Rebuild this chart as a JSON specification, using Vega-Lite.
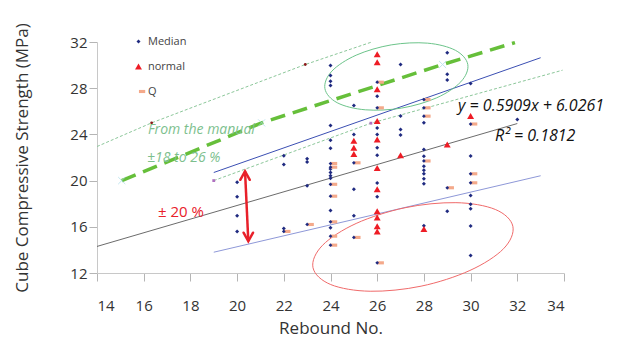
{
  "$schema": "https://vega.github.io/schema/vega-lite/v6.json",
  "width": 467,
  "height": 231,
  "autosize": {"type": "none"},
  "padding": {"left": 97, "top": 42, "right": 60, "bottom": 70},
  "background": "white",
  "config": {
    "view": {"stroke": null},
    "font": "Open Sans",
    "axis": {
      "grid": false,
      "domainColor": "#c8c8c8",
      "tickColor": "#b5b5b5",
      "tickSize": 8,
      "labelFont": "Open Sans",
      "labelFontSize": 15,
      "labelColor": "#333333",
      "titleFont": "Open Sans",
      "titleFontSize": 17,
      "titleFontWeight": "normal",
      "titleColor": "#333333"
    }
  },
  "datasets": {
    "points": [
      {"series": "Median", "x": 20, "y": 19.86}, {"series": "Median", "x": 20, "y": 18.6}, {"series": "Median", "x": 20, "y": 16.95}, {"series": "Median", "x": 20, "y": 15.6},
      {"series": "Median", "x": 22, "y": 22.15}, {"series": "Median", "x": 22, "y": 21.4}, {"series": "Median", "x": 22, "y": 15.85},
      {"series": "Median", "x": 23, "y": 21.9}, {"series": "Median", "x": 23, "y": 21.6}, {"series": "Median", "x": 23, "y": 19.55},
      {"series": "Median", "x": 24, "y": 29.97}, {"series": "Median", "x": 24, "y": 29.1}, {"series": "Median", "x": 24, "y": 28.6}, {"series": "Median", "x": 24, "y": 28.23},
      {"series": "Median", "x": 24, "y": 24.77}, {"series": "Median", "x": 24, "y": 23.5}, {"series": "Median", "x": 24, "y": 22.8}, {"series": "Median", "x": 24, "y": 21.0},
      {"series": "Median", "x": 24, "y": 20.7}, {"series": "Median", "x": 24, "y": 20.42}, {"series": "Median", "x": 24, "y": 20.2}, {"series": "Median", "x": 24, "y": 17.41},
      {"series": "Median", "x": 24, "y": 15.91},
      {"series": "Median", "x": 25, "y": 26.5}, {"series": "Median", "x": 25, "y": 24.0}, {"series": "Median", "x": 25, "y": 19.25}, {"series": "Median", "x": 25, "y": 16.95},
      {"series": "Median", "x": 26, "y": 27.3}, {"series": "Median", "x": 26, "y": 24.55}, {"series": "Median", "x": 26, "y": 24.0}, {"series": "Median", "x": 26, "y": 22.85},
      {"series": "Median", "x": 26, "y": 22.2}, {"series": "Median", "x": 26, "y": 19.8}, {"series": "Median", "x": 26, "y": 18.6},
      {"series": "Median", "x": 27, "y": 30.05}, {"series": "Median", "x": 27, "y": 25.6}, {"series": "Median", "x": 27, "y": 24.42}, {"series": "Median", "x": 27, "y": 23.95},
      {"series": "Median", "x": 28, "y": 25.0}, {"series": "Median", "x": 28, "y": 22.7}, {"series": "Median", "x": 28, "y": 22.1}, {"series": "Median", "x": 28, "y": 21.25},
      {"series": "Median", "x": 28, "y": 20.9}, {"series": "Median", "x": 28, "y": 20.6}, {"series": "Median", "x": 28, "y": 20.15}, {"series": "Median", "x": 28, "y": 19.72},
      {"series": "Median", "x": 28, "y": 16.1},
      {"series": "Median", "x": 29, "y": 31.06}, {"series": "Median", "x": 29, "y": 29.2}, {"series": "Median", "x": 29, "y": 28.7}, {"series": "Median", "x": 29, "y": 17.35},
      {"series": "Median", "x": 30, "y": 28.4}, {"series": "Median", "x": 30, "y": 22.12}, {"series": "Median", "x": 30, "y": 18.7}, {"series": "Median", "x": 30, "y": 17.95},
      {"series": "Median", "x": 30, "y": 17.56}, {"series": "Median", "x": 30, "y": 16.08}, {"series": "Median", "x": 30, "y": 13.52},
      {"series": "Median", "x": 32, "y": 25.29},
      {"series": "Q", "x": 22, "y": 15.6}, {"series": "Q", "x": 23, "y": 16.2},
      {"series": "Q", "x": 24, "y": 21.48}, {"series": "Q", "x": 24, "y": 21.16}, {"series": "Q", "x": 24, "y": 19.68}, {"series": "Q", "x": 24, "y": 18.65},
      {"series": "Q", "x": 24, "y": 16.43}, {"series": "Q", "x": 24, "y": 15.19}, {"series": "Q", "x": 24, "y": 14.41},
      {"series": "Q", "x": 25, "y": 21.54}, {"series": "Q", "x": 25, "y": 15.08},
      {"series": "Q", "x": 26, "y": 28.52}, {"series": "Q", "x": 26, "y": 26.3}, {"series": "Q", "x": 26, "y": 12.88},
      {"series": "Q", "x": 28, "y": 27.02}, {"series": "Q", "x": 28, "y": 26.3}, {"series": "Q", "x": 28, "y": 25.58}, {"series": "Q", "x": 28, "y": 21.7},
      {"series": "Q", "x": 29, "y": 19.38},
      {"series": "Q", "x": 30, "y": 24.9}, {"series": "Q", "x": 30, "y": 20.59}, {"series": "Q", "x": 30, "y": 19.81},
      {"series": "normal", "x": 25, "y": 23.45}, {"series": "normal", "x": 25, "y": 22.85}, {"series": "normal", "x": 25, "y": 22.3},
      {"series": "normal", "x": 26, "y": 30.95}, {"series": "normal", "x": 26, "y": 30.25}, {"series": "normal", "x": 26, "y": 27.9}, {"series": "normal", "x": 26, "y": 25.15},
      {"series": "normal", "x": 26, "y": 23.55}, {"series": "normal", "x": 26, "y": 21.1}, {"series": "normal", "x": 26, "y": 19.25}, {"series": "normal", "x": 26, "y": 17.35},
      {"series": "normal", "x": 26, "y": 16.8}, {"series": "normal", "x": 26, "y": 16.05}, {"series": "normal", "x": 26, "y": 15.6},
      {"series": "normal", "x": 27, "y": 22.2}, {"series": "normal", "x": 28, "y": 15.8}, {"series": "normal", "x": 29, "y": 23.12}, {"series": "normal", "x": 30, "y": 25.6}
    ]
  },
  "encoding": {
    "x": {
      "field": "x", "type": "quantitative",
      "scale": {"domain": [14, 34], "nice": false, "zero": false},
      "axis": {"values": [14, 16, 18, 20, 22, 24, 26, 28, 30, 32, 34], "title": "Rebound No.", "labelPadding": 17, "titlePadding": 7}
    },
    "y": {
      "field": "y", "type": "quantitative",
      "scale": {"domain": [12, 32], "nice": false, "zero": false},
      "axis": {"values": [12, 16, 20, 24, 28, 32], "title": "Cube Compressive Strength (MPa)", "labelPadding": 2, "titlePadding": 38}
    }
  },
  "layer": [
    {
      "data": {"values": [{"x": 14, "y": 14.3}, {"x": 32, "y": 24.94}]},
      "mark": {"type": "line", "color": "#5a5a5a", "strokeWidth": 0.9},
      "encoding": {}
    },
    {
      "data": {"values": [{"x": 19, "y": 20.7}, {"x": 33, "y": 30.64}]},
      "mark": {"type": "line", "color": "#3b4fb3", "strokeWidth": 1},
      "encoding": {}
    },
    {
      "data": {"values": [{"x": 19, "y": 13.8}, {"x": 33, "y": 20.42}]},
      "mark": {"type": "line", "color": "#8e98d8", "strokeWidth": 1},
      "encoding": {}
    },
    {
      "data": {"values": [{"x": 14, "y": 22.95, "i": 0}, {"x": 16.34, "y": 25.0, "i": 1}, {"x": 22.92, "y": 30.05, "i": 2}, {"x": 25.77, "y": 32.0, "i": 3}]},
      "mark": {"type": "line", "color": "#8cc79a", "strokeWidth": 1, "strokeDash": [3, 2]},
      "encoding": {"order": {"field": "i"}}
    },
    {
      "data": {"values": [{"x": 19, "y": 20.0, "i": 0}, {"x": 25.73, "y": 24.97, "i": 1}, {"x": 33.94, "y": 29.56, "i": 2}]},
      "mark": {"type": "line", "color": "#8cc79a", "strokeWidth": 1, "strokeDash": [3, 2]},
      "encoding": {"order": {"field": "i"}}
    },
    {
      "data": {"values": [{"x": 15.06, "y": 20.0, "i": 0}, {"x": 21.05, "y": 25.0, "i": 1}, {"x": 28.8, "y": 30.05, "i": 2}, {"x": 31.9, "y": 31.95, "i": 3}]},
      "mark": {"type": "line", "color": "#66bf3a", "strokeWidth": 3.5, "strokeDash": [15, 8]},
      "encoding": {"order": {"field": "i"}}
    },
    {
      "data": {"values": [{"x": 15.06, "y": 20.0}, {"x": 21.05, "y": 25.0}, {"x": 28.8, "y": 30.05}]},
      "mark": {"type": "point", "shape": "M-1,-1L1,1M1,-1L-1,1", "filled": false, "size": 50, "color": "#a8dcea", "strokeWidth": 1}
    },
    {
      "data": {"values": [{"x": 16.34, "y": 25.0}, {"x": 22.92, "y": 30.05}]},
      "mark": {"type": "point", "shape": "circle", "filled": true, "size": 8, "color": "#8b1a1a", "opacity": 1}
    },
    {
      "data": {"values": [{"x": 19, "y": 20.0}, {"x": 25.73, "y": 24.97}]},
      "mark": {"type": "point", "shape": "square", "filled": true, "size": 8, "color": "#b070c0", "opacity": 1}
    },
    {
      "data": {"values": [
        {"x": 29.88, "y": 30.05, "i": 0}, {"x": 29.58, "y": 28.55, "i": 1}, {"x": 28.55, "y": 27.17, "i": 2}, {"x": 27.05, "y": 26.28, "i": 3},
        {"x": 25.49, "y": 26.13, "i": 4}, {"x": 24.29, "y": 26.74, "i": 5}, {"x": 23.76, "y": 27.97, "i": 6}, {"x": 24.06, "y": 29.48, "i": 7},
        {"x": 25.1, "y": 30.86, "i": 8}, {"x": 26.6, "y": 31.75, "i": 9}, {"x": 28.15, "y": 31.9, "i": 10}, {"x": 29.35, "y": 31.28, "i": 11}
      ]},
      "mark": {"type": "line", "color": "#6cc48a", "strokeWidth": 1, "interpolate": "cardinal-closed"},
      "encoding": {"order": {"field": "i"}}
    },
    {
      "data": {"values": [
        {"x": 31.81, "y": 16.04, "i": 0}, {"x": 31.41, "y": 14.1, "i": 1}, {"x": 29.97, "y": 12.22, "i": 2}, {"x": 27.88, "y": 10.86, "i": 3},
        {"x": 25.7, "y": 10.42, "i": 4}, {"x": 24.01, "y": 11.0, "i": 5}, {"x": 23.25, "y": 12.46, "i": 6}, {"x": 23.66, "y": 14.4, "i": 7},
        {"x": 25.1, "y": 16.29, "i": 8}, {"x": 27.19, "y": 17.65, "i": 9}, {"x": 29.37, "y": 18.09, "i": 10}, {"x": 31.06, "y": 17.5, "i": 11}
      ]},
      "mark": {"type": "line", "color": "#f06a6a", "strokeWidth": 1, "interpolate": "cardinal-closed"},
      "encoding": {"order": {"field": "i"}}
    },
    {
      "data": {"name": "points"},
      "mark": {"type": "point", "filled": true, "opacity": 1},
      "encoding": {
        "color": {"field": "series", "type": "nominal", "scale": {"domain": ["Median", "normal", "Q"], "range": ["#1f2a80", "#ee1c25", "#f4a98a"]},
          "legend": {"orient": "none", "legendX": 36, "legendY": -6, "title": null, "labelFontSize": 11, "labelColor": "#444444", "labelFont": "Open Sans", "rowPadding": 13, "padding": 0, "symbolStrokeWidth": 0}},
        "shape": {"field": "series", "type": "nominal", "scale": {"domain": ["Median", "normal", "Q"], "range": ["diamond", "triangle-up", "M0.1,-0.35H1.5V0.35H0.1Z"]}},
        "size": {"field": "series", "type": "nominal", "scale": {"domain": ["Median", "normal", "Q"], "range": [16, 80, 60]}}
      }
    },
    {
      "data": {"name": "points"},
      "transform": [{"filter": "datum.series === 'Q'"}],
      "mark": {"type": "point", "shape": "diamond", "filled": true, "size": 14, "color": "#1f2a80", "opacity": 1}
    },
    {
      "data": {"values": [{"x": 20.34, "y": 20.81}, {"x": 20.48, "y": 14.75}]},
      "mark": {"type": "line", "color": "#e8202a", "strokeWidth": 2.5},
      "encoding": {}
    },
    {
      "data": {"values": [{"x": 20.34, "y": 20.81}]},
      "mark": {"type": "point", "shape": "M-1,1.8L0,0L1,1.8", "filled": false, "size": 90, "color": "#e8202a", "strokeWidth": 2.5, "strokeCap": "round", "opacity": 1}
    },
    {
      "data": {"values": [{"x": 20.48, "y": 14.75}]},
      "mark": {"type": "point", "shape": "M-1,-1.8L0,0L1,-1.8", "filled": false, "size": 90, "color": "#e8202a", "strokeWidth": 2.5, "strokeCap": "round", "opacity": 1}
    },
    {
      "data": {"values": [{"x": 16.18, "y": 24.42, "label": "From the manual"}, {"x": 16.14, "y": 22.0, "label": "±18 to 26 %"}]},
      "mark": {"type": "text", "align": "left", "baseline": "middle", "font": "Open Sans", "fontStyle": "italic", "fontSize": 14, "color": "#7dbf8e"},
      "encoding": {"text": {"field": "label"}}
    },
    {
      "data": {"values": [{"x": 16.61, "y": 17.24, "label": "± 20 %"}]},
      "mark": {"type": "text", "align": "left", "baseline": "middle", "font": "Open Sans", "fontSize": 15, "color": "#e8202a"},
      "encoding": {"text": {"field": "label"}}
    },
    {
      "data": {"values": [{"x": 29.46, "y": 26.42, "label": "y = 0.5909x + 6.0261"}]},
      "mark": {"type": "text", "align": "left", "baseline": "middle", "font": "Open Sans", "fontStyle": "italic", "fontSize": 16, "color": "#111111"},
      "encoding": {"text": {"field": "label"}}
    },
    {
      "data": {"values": [{"x": 31.05, "y": 23.82, "label": "R² = 0.1812"}]},
      "mark": {"type": "text", "align": "left", "baseline": "middle", "font": "Open Sans", "fontStyle": "italic", "fontSize": 16, "color": "#111111"},
      "encoding": {"text": {"field": "label"}}
    }
  ]
}
